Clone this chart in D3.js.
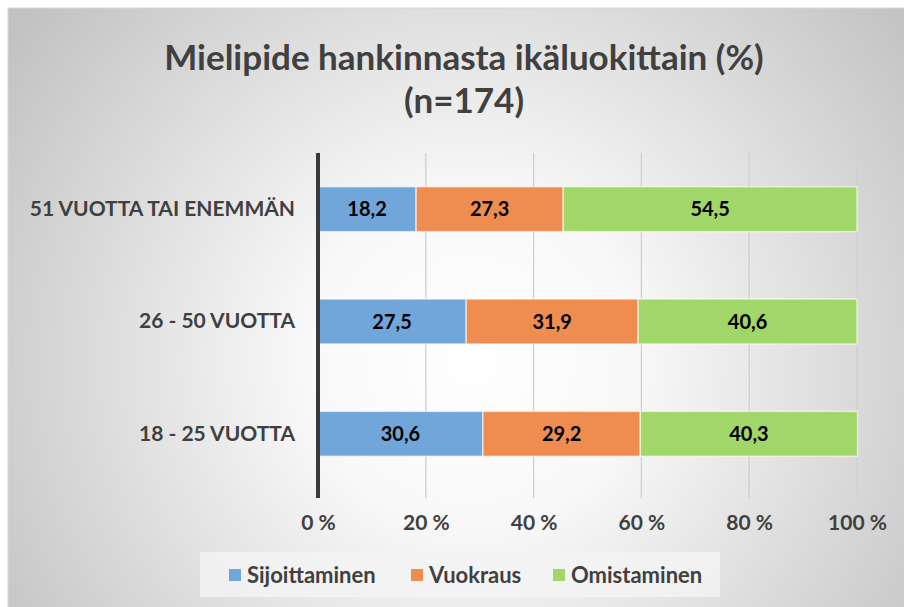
<!DOCTYPE html>
<html>
<head>
<meta charset="utf-8">
<script src="https://cdn.jsdelivr.net/npm/d3@7"></script>
<style>
  body { margin: 0; background: #fff; }
  text { font-family: Lato, "Open Sans", sans-serif; font-weight: bold; }
</style>
</head>
<body>
<div id="chart"></div>
<script>
const categories = ['51 VUOTTA TAI ENEMMÄN', '26 - 50 VUOTTA', '18 - 25 VUOTTA'];
const seriesNames = ['Sijoittaminen', 'Vuokraus', 'Omistaminen'];
const sijoittaminen = [18.2, 27.5, 30.6];
const vuokraus = [27.3, 31.9, 29.2];
const omistaminen = [54.5, 40.6, 40.3];
const tickLabels = ['0 %', '20 %', '40 %', '60 %', '80 %', '100 %'];

const colors = ['#70a6da', '#ef8d50', '#a1d668'];

const W = 904, H = 607;
const margin = { top: 153, right: 47, bottom: 117, left: 318 },
    width = W - margin.left - margin.right,
    height = H - margin.top - margin.bottom;

const svg = d3.select('#chart').append('svg')
    .attr('width', W)
    .attr('height', H);

// background gradient
const defs = svg.append('defs');
const grad = defs.append('radialGradient')
    .attr('id', 'bg')
    .attr('gradientUnits', 'userSpaceOnUse')
    .attr('cx', 470).attr('cy', 360).attr('r', 560);
grad.append('stop').attr('offset', '0%').attr('stop-color', '#ffffff');
grad.append('stop').attr('offset', '30%').attr('stop-color', '#f8f8f8');
grad.append('stop').attr('offset', '100%').attr('stop-color', '#c2c2c2');

svg.append('rect')
    .attr('x', 8).attr('y', 8)
    .attr('width', W).attr('height', H)
    .attr('fill', 'url(#bg)')
    .attr('stroke', '#d6d6d6');

// title
const title = svg.append('text')
    .attr('text-anchor', 'middle')
    .attr('fill', '#404040')
    .style('font-size', '35px');
title.append('tspan').attr('x', 464).attr('y', 70).text('Mielipide hankinnasta ikäluokittain (%)');
title.append('tspan').attr('x', 464).attr('y', 113).text('(n=174)');

const g = svg.append('g')
    .attr('transform', 'translate(' + margin.left + ',' + margin.top + ')');

const xScale = d3.scaleLinear().domain([0, 100]).range([0, width]);
const yScale = d3.scaleBand().domain(categories).range([0, height])
    .paddingInner(0.6).paddingOuter(0.3);

// gridlines + tick marks
g.append('g')
    .selectAll('line')
    .data(xScale.ticks(5).slice(1))
    .join('line')
    .attr('x1', d => xScale(d)).attr('x2', d => xScale(d))
    .attr('y1', 0).attr('y2', height + 8)
    .attr('stroke', '#cfcfcf')
    .attr('stroke-width', 1.3);

const xAxis = d3.axisBottom(xScale)
    .tickValues(xScale.ticks(5))
    .tickFormat((d, i) => tickLabels[i])
    .tickSize(0)
    .tickPadding(25);

g.append('g')
    .attr('transform', 'translate(0,' + height + ')')
    .call(xAxis)
    .call(ax => ax.select('.domain').remove())
    .selectAll('text')
    .attr('fill', '#404040')
    .style('font-size', '21px');

const yAxis = d3.axisLeft(yScale).tickSize(0).tickPadding(23);
g.append('g')
    .call(yAxis)
    .call(ax => ax.select('.domain').remove())
    .selectAll('text')
    .attr('fill', '#404040')
    .style('font-size', '21px');

// stacked bars
const rows = categories.map((c, i) => ({
    cat: c,
    Sijoittaminen: sijoittaminen[i],
    Vuokraus: vuokraus[i],
    Omistaminen: omistaminen[i]
}));
const stack = d3.stack().keys(seriesNames)(rows);

const layers = g.selectAll('.layer')
    .data(stack)
    .join('g')
    .attr('class', 'layer')
    .attr('fill', (d, i) => colors[i]);

layers.selectAll('rect')
    .data(d => d)
    .join('rect')
    .attr('x', d => xScale(d[0]))
    .attr('y', d => yScale(d.data.cat))
    .attr('width', d => xScale(d[1]) - xScale(d[0]))
    .attr('height', yScale.bandwidth())
    .attr('stroke', 'rgba(255,255,255,0.6)')
    .attr('stroke-width', 1.5);

layers.selectAll('.lbl')
    .data(d => d.map(v => Object.assign(v, { key: d.key })))
    .join('text')
    .attr('class', 'lbl')
    .attr('x', d => (xScale(d[0]) + xScale(d[1])) / 2)
    .attr('y', d => yScale(d.data.cat) + yScale.bandwidth() / 2)
    .attr('dy', '0.36em')
    .attr('text-anchor', 'middle')
    .attr('fill', '#000')
    .style('font-size', '20px')
    .text(d => d3.format('.1f')(d.data[d.key]).replace('.', ','));

// vertical axis line
g.append('line')
    .attr('x1', 0).attr('x2', 0)
    .attr('y1', 0).attr('y2', height + 8)
    .attr('stroke', '#3a3a3a')
    .attr('stroke-width', 4);

// legend
const legend = svg.append('g');
legend.append('rect')
    .attr('x', 200).attr('y', 552)
    .attr('width', 520).attr('height', 45)
    .attr('fill', '#f4f4f4').attr('opacity', 0.8);

const legendX = [229, 411, 553];
const items = legend.selectAll('.item')
    .data(seriesNames)
    .join('g')
    .attr('class', 'item')
    .attr('transform', (d, i) => 'translate(' + legendX[i] + ',569)');
items.append('rect')
    .attr('width', 12).attr('height', 12)
    .attr('fill', (d, i) => colors[i]);
items.append('text')
    .attr('x', 18).attr('y', 6)
    .attr('dy', '0.36em')
    .attr('fill', '#404040')
    .style('font-size', '22px')
    .text(d => d);
</script>
</body>
</html>
